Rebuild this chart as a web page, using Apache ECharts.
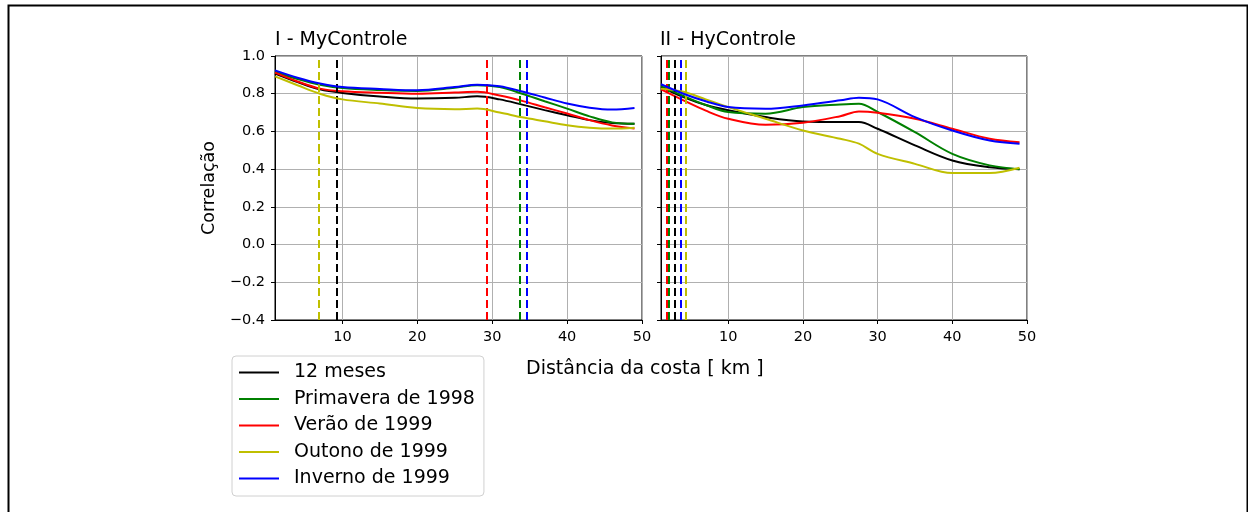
<!DOCTYPE html>
<html><head><meta charset="utf-8">
<script src="https://cdn.jsdelivr.net/npm/echarts@6/dist/echarts.min.js"></script>
<style>html,body{margin:0;padding:0;background:#fff}#c{width:1248px;height:512px}</style>
</head><body><div id="c"></div>
<script>
const seriesNames = ['12 meses','Primavera de 1998','Verão de 1999','Outono de 1999','Inverno de 1999'];
const seriesColors = ['#000000','#008000','#ff0000','#bfbf00','#0000ff'];
const panelTitles = ['I - MyControle','II - HyControle'];
const xTicks = [10,20,30,40,50];

const xLeft = [1,4,7,10,15,20,25,28,31,34,37,40,43,46,49];
const leftBlack  = [0.907,0.862,0.823,0.804,0.785,0.774,0.778,0.786,0.770,0.742,0.713,0.686,0.660,0.645,0.641];
const leftGreen  = [0.915,0.878,0.848,0.830,0.820,0.815,0.832,0.845,0.835,0.800,0.760,0.721,0.680,0.648,0.641];
const leftRed    = [0.912,0.865,0.827,0.813,0.805,0.800,0.806,0.810,0.790,0.762,0.728,0.695,0.660,0.632,0.615];
const leftYellow = [0.892,0.845,0.800,0.770,0.748,0.724,0.718,0.721,0.700,0.675,0.654,0.633,0.620,0.615,0.620];
const leftBlue   = [0.924,0.885,0.854,0.835,0.825,0.818,0.835,0.848,0.840,0.812,0.780,0.748,0.726,0.716,0.724];
const leftCuts   = [9.3,33.7,29.3,6.8,34.6];

const xRight = [1,4,7,10,15,20,25,27.5,30,35,40,45,49];
const rightBlack  = [0.835,0.782,0.740,0.712,0.676,0.653,0.650,0.650,0.614,0.526,0.446,0.410,0.400];
const rightGreen  = [0.840,0.788,0.740,0.703,0.694,0.729,0.743,0.747,0.703,0.596,0.481,0.420,0.400];
const rightRed    = [0.823,0.765,0.710,0.667,0.635,0.646,0.681,0.706,0.699,0.667,0.614,0.561,0.543];
const rightYellow = [0.827,0.810,0.770,0.729,0.667,0.605,0.561,0.535,0.481,0.428,0.379,0.379,0.407];
const rightBlue   = [0.850,0.800,0.760,0.729,0.720,0.738,0.765,0.779,0.770,0.676,0.605,0.552,0.535];
const rightCuts   = [2.9,2.1,1.8,4.3,3.7];

const leftData = [leftBlack,leftGreen,leftRed,leftYellow,leftBlue];
const rightData = [rightBlack,rightGreen,rightRed,rightYellow,rightBlue];

const FONT = 'DejaVu Sans';
const chart = echarts.init(document.getElementById('c'), null, {renderer:'canvas'});

function mkX(idx){
  return {
    gridIndex: idx, type:'value', min:1, max:50,
    axisLine:{show:true,onZero:false,lineStyle:{color:'#000',width:1}},
    axisTick:{show:true,length:4,customValues:xTicks,lineStyle:{color:'#000'}},
    axisLabel:{customValues:xTicks,color:'#000',fontFamily:FONT,fontSize:14.5,margin:10},
    splitLine:{show:true,lineStyle:{color:'#b0b0b0',width:1}}
  };
}
function mkY(idx){
  return {
    gridIndex: idx, type:'value', min:-0.4, max:1.0, interval:0.2,
    name: idx===0 ? 'Correlação' : '', nameLocation:'middle', nameRotate:90, nameGap:57,
    nameTextStyle:{color:'#000',fontFamily:FONT,fontSize:17.5},
    axisLine:{show:true,onZero:false,lineStyle:{color:'#000',width:1}},
    axisTick:{show:true,length:4,lineStyle:{color:'#000'}},
    axisLabel:{show: idx===0, color:'#000',fontFamily:FONT,fontSize:14.5,margin:10,
      formatter:v=>{const s=Math.abs(v).toFixed(1);return (v< -1e-9?'\u2212':'')+s;}},
    splitLine:{show:true,lineStyle:{color:'#b0b0b0',width:1}}
  };
}

const series = [];
[[xLeft,leftData,leftCuts,0],[xRight,rightData,rightCuts,1]].forEach(([xs,datas,cuts,gi])=>{
  datas.forEach((d,i)=>{
    series.push({
      name: seriesNames[i], type:'line', xAxisIndex:gi, yAxisIndex:gi,
      data: xs.map((x,k)=>[x,d[k]]), symbol:'none', smooth:0.35,
      lineStyle:{color:seriesColors[i],width:2}, itemStyle:{color:seriesColors[i]},
      z: 2+i, silent:true, emphasis:{disabled:true},
      markLine:{silent:true, symbol:['none','none'], label:{show:false}, emphasis:{disabled:true},
        lineStyle:{color:seriesColors[i],width:2,type:[8,4]},
        data:[{xAxis:cuts[i]}]}
    });
  });
});

chart.setOption({
  animation:false,
  backgroundColor:'#fff',
  title: panelTitles.map((t,i)=>({text:t,left: i===0?275:660, top:31, padding:0,
    textStyle:{fontFamily:FONT,fontSize:19,fontWeight:'normal',color:'#000'}})),
  grid:[
    {left:275,right:606,top:56,bottom:192,show:true,borderColor:'#000',borderWidth:1,backgroundColor:'#fff'},
    {left:661,right:221,top:56,bottom:192,show:true,borderColor:'#000',borderWidth:1,backgroundColor:'#fff'}
  ],
  xAxis:[mkX(0),mkX(1)],
  yAxis:[mkY(0),mkY(1)],
  legend:{
    data: seriesNames, orient:'vertical', left:232, top:356,
    itemWidth:40, itemHeight:18, itemGap:7.5,
    itemStyle:{opacity:0},
    lineStyle:{width:2},
    padding:[7,9,8,6], borderColor:'#d0d0d0', borderWidth:1, borderRadius:4, backgroundColor:'#fff',
    selectedMode:false,
    textStyle:{fontFamily:FONT,fontSize:19,lineHeight:19,color:'#000',padding:[0,0,0,10]}
  },
  graphic:[
    {type:'rect', left:6, top:3, shape:{width:1239,height:520}, style:{fill:'none',stroke:'#000',lineWidth:2}, silent:true},
    {type:'text', left:526, top:360, style:{text:'Distância da costa [ km ]', font:'19px "DejaVu Sans"', fill:'#000'}, silent:true}
  ],
  series: series
});
</script></body></html>
